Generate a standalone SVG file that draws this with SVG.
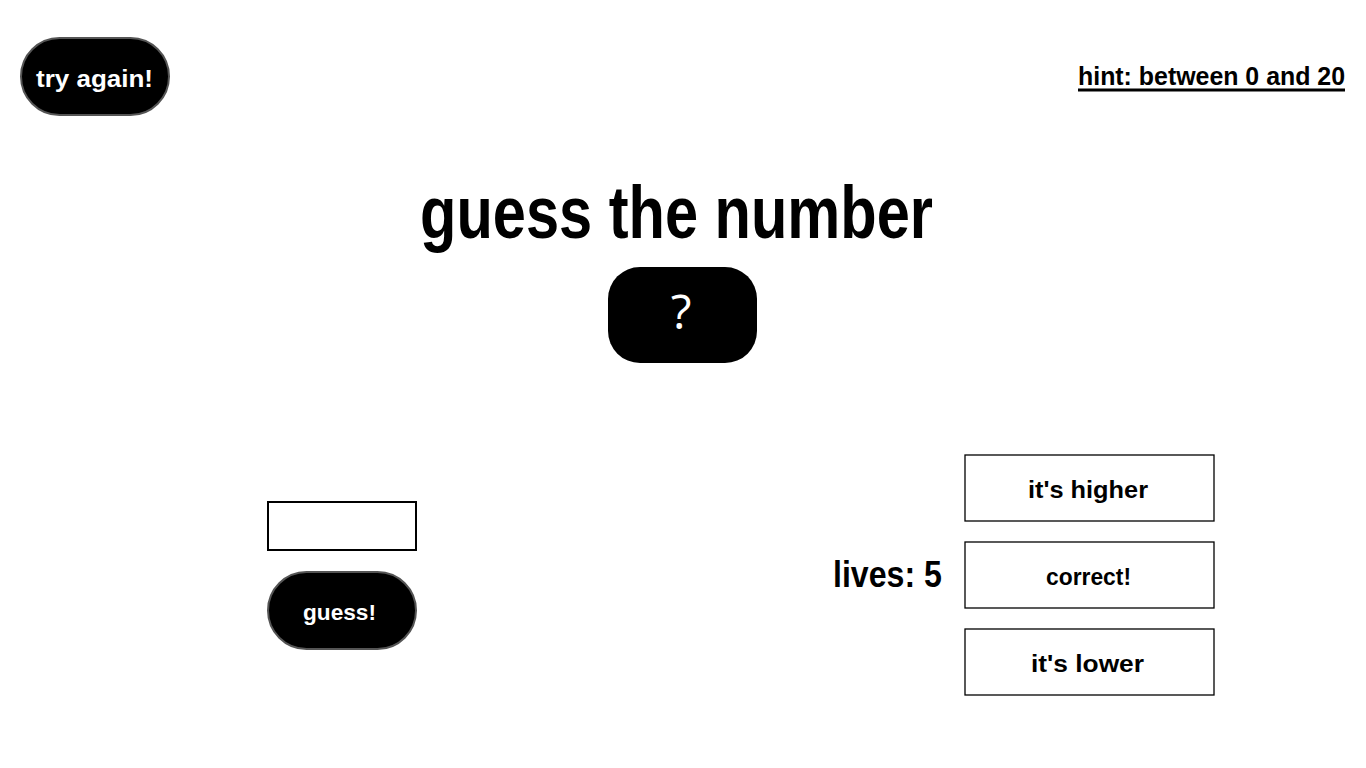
<svg xmlns="http://www.w3.org/2000/svg" width="1366" height="768" viewBox="0 0 1366 768">
<style>
.pill{fill:#000;stroke:#555;stroke-width:2}
.box{fill:#fff;stroke:#000;stroke-width:1.3}
.t{font-family:"Liberation Sans",Arial,sans-serif;font-weight:bold;fill:#000}
.w{fill:#fff}
</style>
<rect width="1366" height="768" fill="#fff"/>
<g id="try-again">
<rect class="pill" x="21" y="38" width="148" height="77" rx="38.5"/>
<text class="t w" x="36" y="87" font-size="24" textLength="117" lengthAdjust="spacingAndGlyphs">try again!</text>
</g>
<g id="hint">
<text class="t" x="1078" y="85" font-size="26" textLength="267" lengthAdjust="spacingAndGlyphs">hint: between 0 and 20</text>
<line x1="1078" y1="90" x2="1345" y2="90" stroke="#000" stroke-width="3"/>
</g>
<g id="title">
<text class="t" x="420" y="238" font-size="74" textLength="513" lengthAdjust="spacingAndGlyphs">guess the number</text>
</g>
<g id="secret">
<rect x="608" y="267" width="149" height="96" rx="32" fill="#000"/>
<text x="681" y="329" font-family="'Open Sans','Liberation Sans',sans-serif" font-size="48" fill="#fff" text-anchor="middle">?</text>
</g>
<g id="input">
<rect x="268" y="502" width="148" height="48" fill="#fff" stroke="#000" stroke-width="2"/>
</g>
<g id="guess">
<rect class="pill" x="268" y="572" width="148" height="77" rx="38.5"/>
<text class="t w" x="303" y="620" font-size="22" textLength="73" lengthAdjust="spacingAndGlyphs">guess!</text>
</g>
<g id="lives">
<text x="833" y="587" font-family="'Liberation Sans',Arial,sans-serif" font-weight="bold" font-size="36" fill="#000" textLength="109" lengthAdjust="spacingAndGlyphs">lives: 5</text>
</g>
<g id="higher">
<rect class="box" x="965" y="455" width="249" height="66"/>
<text class="t" x="1028" y="498" font-size="23" textLength="120" lengthAdjust="spacingAndGlyphs">it's higher</text>
</g>
<g id="correct">
<rect class="box" x="965" y="542" width="249" height="66"/>
<text class="t" x="1046" y="585" font-size="23" textLength="85" lengthAdjust="spacingAndGlyphs">correct!</text>
</g>
<g id="lower">
<rect class="box" x="965" y="629" width="249" height="66"/>
<text class="t" x="1031" y="672" font-size="23" textLength="113" lengthAdjust="spacingAndGlyphs">it's lower</text>
</g>
</svg>
